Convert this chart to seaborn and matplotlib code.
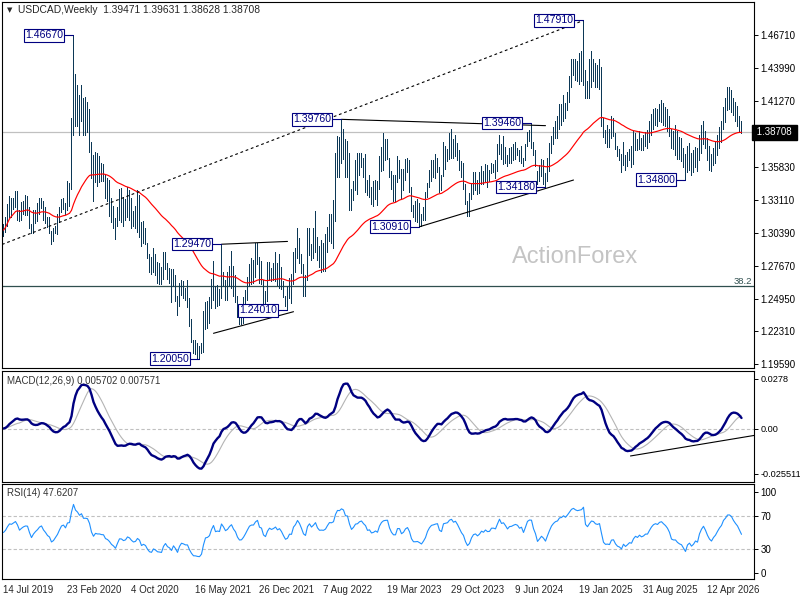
import matplotlib
matplotlib.use("Agg")
import matplotlib.pyplot as plt
import numpy as np
import pandas as pd
import seaborn as sns

# weekly lows / highs, starting week of 14 Jul 2019
week_low = [
    1.3016, 1.3045, 1.3100, 1.3170, 1.3170, 1.3240, 1.3250, 1.3150, 1.3135, 1.3145,
    1.3200, 1.3185, 1.3185, 1.3080, 1.3040, 1.3040, 1.3125, 1.3140, 1.3200, 1.3245,
    1.3150, 1.3120, 1.3090, 1.3040, 1.2950, 1.2970, 1.3040, 1.3030, 1.3130, 1.3215,
    1.3240, 1.3200, 1.3230, 1.3260, 1.3400, 1.3850, 1.3920, 1.3920, 1.3850, 1.3960,
    1.3850, 1.3850, 1.3870, 1.3710, 1.3490, 1.3300, 1.3460, 1.3430, 1.3460, 1.3470,
    1.3470, 1.3330, 1.3300, 1.3180, 1.3130, 1.3080, 1.2990, 1.3100, 1.3150, 1.3130,
    1.3100, 1.3150, 1.3170, 1.3150, 1.3080, 1.3100, 1.3080, 1.3050, 1.3010, 1.2930,
    1.2960, 1.2950, 1.2830, 1.2720, 1.2700, 1.2720, 1.2690, 1.2630, 1.2620, 1.2620,
    1.2660, 1.2740, 1.2660, 1.2630, 1.2470, 1.2600, 1.2480, 1.2360, 1.2440, 1.2530,
    1.2500, 1.2490, 1.2430, 1.2270, 1.2140, 1.2050, 1.2040, 1.2010, 1.2005, 1.2050,
    1.2060, 1.2250, 1.2260, 1.2300, 1.2420, 1.2490, 1.2420, 1.2440, 1.2450, 1.2500,
    1.2600, 1.2490, 1.2490, 1.2600, 1.2590, 1.2520, 1.2470, 1.2350, 1.2290, 1.2290,
    1.2300, 1.2400, 1.2490, 1.2600, 1.2620, 1.2630, 1.2680, 1.2780, 1.2630, 1.2620,
    1.2450, 1.2450, 1.2480, 1.2650, 1.2640, 1.2650, 1.2640, 1.2610, 1.2590, 1.2580,
    1.2510, 1.2440, 1.2401, 1.2500, 1.2460, 1.2620, 1.2720, 1.2830, 1.2790, 1.2710,
    1.2520, 1.2520, 1.2650, 1.2860, 1.2820, 1.2830, 1.2880, 1.2820, 1.2760, 1.2720,
    1.2730, 1.2730, 1.2880, 1.2970, 1.2960, 1.2920, 1.3140, 1.3500, 1.3500, 1.3620,
    1.3650, 1.3500, 1.3500, 1.3230, 1.3230, 1.3310, 1.3390, 1.3360, 1.3520, 1.3580,
    1.3500, 1.3380, 1.3350, 1.3340, 1.3280, 1.3260, 1.3320, 1.3270, 1.3400, 1.3550,
    1.3560, 1.3640, 1.3650, 1.3500, 1.3400, 1.3300, 1.3300, 1.3460, 1.3490, 1.3320,
    1.3390, 1.3480, 1.3540, 1.3380, 1.3220, 1.3170, 1.3140, 1.3130, 1.3091, 1.3100,
    1.3150, 1.3150, 1.3340, 1.3420, 1.3470, 1.3500, 1.3490, 1.3540, 1.3380, 1.3390,
    1.3510, 1.3570, 1.3630, 1.3650, 1.3660, 1.3660, 1.3670, 1.3640, 1.3560, 1.3500,
    1.3400, 1.3280, 1.3177, 1.3180, 1.3320, 1.3360, 1.3390, 1.3360, 1.3370, 1.3440,
    1.3440, 1.3470, 1.3420, 1.3470, 1.3530, 1.3540, 1.3490, 1.3550, 1.3690, 1.3650,
    1.3610, 1.3620, 1.3590, 1.3620, 1.3620, 1.3640, 1.3650, 1.3680, 1.3630, 1.3620,
    1.3590, 1.3640, 1.3760, 1.3800, 1.3740, 1.3680, 1.3590, 1.3440, 1.3470, 1.3510,
    1.3440, 1.3418, 1.3470, 1.3550, 1.3700, 1.3770, 1.3820, 1.3820, 1.3900, 1.3930,
    1.3960, 1.3990, 1.4050, 1.4120, 1.4240, 1.4340, 1.4300, 1.4290, 1.4270, 1.4290,
    1.4260, 1.4150, 1.4150, 1.4150, 1.4240, 1.4290, 1.4240, 1.4240, 1.4230, 1.3920,
    1.3830, 1.3780, 1.3750, 1.3750, 1.3820, 1.3840, 1.3730, 1.3670, 1.3640, 1.3540,
    1.3600, 1.3560, 1.3590, 1.3640, 1.3580, 1.3610, 1.3720, 1.3720, 1.3730, 1.3720,
    1.3720, 1.3760, 1.3740, 1.3790, 1.3850, 1.3900, 1.3930, 1.3920, 1.3960, 1.3950,
    1.3930, 1.3920, 1.3880, 1.3840, 1.3740, 1.3730, 1.3680, 1.3650, 1.3650, 1.3630,
    1.3580, 1.3480, 1.3540, 1.3560, 1.3520, 1.3540, 1.3580, 1.3550, 1.3640, 1.3700,
    1.3770, 1.3740, 1.3640, 1.3560, 1.3550, 1.3600, 1.3620, 1.3680, 1.3740, 1.3790,
    1.3900, 1.3950, 1.4050, 1.4060, 1.4040, 1.4010, 1.3960, 1.3920, 1.3880, 1.38628,
]
week_high = [
    1.3110, 1.3170, 1.3275, 1.3345, 1.3330, 1.3330, 1.3385, 1.3385, 1.3230, 1.3295,
    1.3300, 1.3350, 1.3345, 1.3255, 1.3110, 1.3230, 1.3230, 1.3285, 1.3325, 1.3325,
    1.3300, 1.3250, 1.3175, 1.3170, 1.3060, 1.3080, 1.3100, 1.3200, 1.3250, 1.3320,
    1.3330, 1.3290, 1.3465, 1.3450, 1.3990, 1.4667, 1.4350, 1.4260, 1.4180, 1.4260,
    1.4150, 1.4160, 1.4120, 1.4065, 1.3790, 1.3680, 1.3710, 1.3700, 1.3670, 1.3620,
    1.3610, 1.3520, 1.3490, 1.3480, 1.3330, 1.3260, 1.3160, 1.3250, 1.3400, 1.3410,
    1.3340, 1.3320, 1.3420, 1.3390, 1.3330, 1.3220, 1.3260, 1.3390, 1.3350, 1.3130,
    1.3140, 1.3080, 1.2960, 1.2870, 1.2840, 1.2920, 1.2870, 1.2800, 1.2790, 1.2760,
    1.2880, 1.2880, 1.2790, 1.2750, 1.2740, 1.2740, 1.2690, 1.2520, 1.2630, 1.2650,
    1.2640, 1.2590, 1.2650, 1.2500, 1.2330, 1.2160, 1.2160, 1.2130, 1.2110, 1.2130,
    1.2400, 1.2470, 1.2480, 1.2510, 1.2660, 1.2810, 1.2600, 1.2610, 1.2580, 1.2947,
    1.2720, 1.2650, 1.2720, 1.2770, 1.2890, 1.2770, 1.2690, 1.2520, 1.2400, 1.2410,
    1.2510, 1.2570, 1.2680, 1.2780, 1.2830, 1.2820, 1.2960, 1.2960, 1.2840, 1.2810,
    1.2650, 1.2560, 1.2800, 1.2800, 1.2750, 1.2790, 1.2880, 1.2790, 1.2870, 1.2760,
    1.2640, 1.2520, 1.2600, 1.2670, 1.2700, 1.2880, 1.2920, 1.3080, 1.3000, 1.2870,
    1.2780, 1.2690, 1.3080, 1.3080, 1.2950, 1.3080, 1.3220, 1.3010, 1.2930, 1.2980,
    1.2960, 1.3030, 1.3090, 1.3200, 1.3200, 1.3310, 1.3700, 1.3840, 1.3830, 1.3976,
    1.3900, 1.3810, 1.3800, 1.3700, 1.3400, 1.3470, 1.3640, 1.3700, 1.3700, 1.3700,
    1.3660, 1.3690, 1.3480, 1.3520, 1.3420, 1.3470, 1.3480, 1.3470, 1.3670, 1.3750,
    1.3860, 1.3810, 1.3810, 1.3660, 1.3550, 1.3520, 1.3520, 1.3670, 1.3640, 1.3570,
    1.3570, 1.3650, 1.3660, 1.3640, 1.3420, 1.3270, 1.3300, 1.3320, 1.3290, 1.3200,
    1.3250, 1.3380, 1.3450, 1.3560, 1.3640, 1.3640, 1.3690, 1.3660, 1.3580, 1.3520,
    1.3790, 1.3760, 1.3730, 1.3860, 1.3900, 1.3810, 1.3850, 1.3780, 1.3720, 1.3630,
    1.3620, 1.3440, 1.3300, 1.3370, 1.3440, 1.3540, 1.3540, 1.3480, 1.3540, 1.3590,
    1.3550, 1.3610, 1.3600, 1.3560, 1.3620, 1.3610, 1.3640, 1.3770, 1.3850, 1.3770,
    1.3840, 1.3750, 1.3680, 1.3740, 1.3750, 1.3770, 1.3790, 1.3740, 1.3720, 1.3760,
    1.3660, 1.3770, 1.3870, 1.3890, 1.3946, 1.3790, 1.3720, 1.3550, 1.3600, 1.3650,
    1.3640, 1.3530, 1.3660, 1.3780, 1.3840, 1.3910, 1.3960, 1.4000, 1.4105, 1.4100,
    1.4180, 1.4110, 1.4200, 1.4330, 1.4470, 1.4470, 1.4470, 1.4460, 1.4520, 1.4540,
    1.4791, 1.4380, 1.4290, 1.4470, 1.4540, 1.4470, 1.4440, 1.4420, 1.4470, 1.4410,
    1.3990, 1.3890, 1.3930, 1.3900, 1.4000, 1.3990, 1.3860, 1.3760, 1.3730, 1.3690,
    1.3790, 1.3680, 1.3710, 1.3730, 1.3760, 1.3880, 1.3860, 1.3810, 1.3880, 1.3820,
    1.3850, 1.3870, 1.3890, 1.3960, 1.4020, 1.4060, 1.4070, 1.4060, 1.4100, 1.4135,
    1.4110, 1.4080, 1.4060, 1.4000, 1.3900, 1.3880, 1.3930, 1.3880, 1.3830, 1.3820,
    1.3740, 1.3690, 1.3760, 1.3780, 1.3700, 1.3720, 1.3750, 1.3740, 1.3850, 1.3930,
    1.3960, 1.3880, 1.3820, 1.3760, 1.3690, 1.3740, 1.3790, 1.3850, 1.3910, 1.3960,
    1.4080, 1.4150, 1.4245, 1.4240, 1.4220, 1.4150, 1.4120, 1.4090, 1.4000, 1.39631,
]
last_ohlc = [1.39471, 1.39631, 1.38628, 1.38708]

# swing points that carry a price tag (week index, 'H' = high / 'L' = low)
tag_weeks = [35, 98, 109, 142, 169, 208, 264, 271, 290, 341]
tag_kind = ['H', 'L', 'H', 'L', 'H', 'L', 'H', 'L', 'H', 'L']

price_ticks = [1.46710, 1.43990, 1.41270, 1.35830, 1.33110, 1.30390,
               1.27670, 1.24950, 1.22310, 1.19590]
fib_level = 1.2603
fib_text = '38.2'

# hand drawn lines: (week, price) -> (week, price)
trend_dotted = [(-0.75, 1.2945), (290, 1.4791)]
trend_solid = [
    [(109, 1.2947), (142, 1.2970)],
    [(105, 1.2213), (145, 1.2391)],
    [(169, 1.3976), (271, 1.3924)],
    [(208, 1.3091), (285, 1.3476)],
]
macd_trend = [(313.5, -0.0154), (375.25, -0.0039)]

macd_ticks = [0.0278, 0.0, -0.025511]
macd_tick_labels = ['0.0278', '0.00', '-0.025511']
macd_header = 'MACD(12,26,9) 0.005702 0.007571'
rsi_ticks = [100, 70, 30, 0]
rsi_header = 'RSI(14) 47.6207'

NAVY = '#000080'
BAR = '#0c3856'

df = pd.DataFrame({'low': week_low, 'high': week_high},
                  index=pd.date_range('2019-07-14', periods=len(week_low), freq='W-SUN'))
df['close'] = (df['low'] + df['high']) / 2
df.iloc[-1, df.columns.get_loc('close')] = last_ohlc[3]
idx = np.arange(len(df))

ma = df['close'].ewm(span=55, adjust=True).mean()
ema12 = df['close'].ewm(span=12, adjust=False).mean()
ema26 = df['close'].ewm(span=26, adjust=False).mean()
macd = ema12 - ema26
signal = macd.rolling(9, min_periods=1).mean()

# Wilder RSI, started from a neutral state (equal average gain and loss)
delta = df['close'].diff().fillna(0).values
avg_g = avg_l = np.abs(delta).mean() / 2
rsi = []
for d in delta:
    avg_g = (avg_g * 13 + max(d, 0)) / 14
    avg_l = (avg_l * 13 + max(-d, 0)) / 14
    rsi.append(100 - 100 / (1 + avg_g / avg_l))
rsi = np.array(rsi)

sns.set_style('white')
plt.rcParams['font.family'] = ['Liberation Sans', 'DejaVu Sans']

fig = plt.figure(figsize=(8, 6), dpi=100)
ax = fig.add_axes([2 / 800, 1 - 368 / 600, 752 / 800, 366 / 600])
axm = fig.add_axes([2 / 800, 1 - 482 / 600, 752 / 800, 111 / 600])
axr = fig.add_axes([2 / 800, 1 - 579 / 600, 752 / 800, 95 / 600])

XLIM = (-0.75, 375.25)

# ---- price panel
ax.axhline(last_ohlc[3], color='#c0c0c0', lw=0.9, zorder=0)
ax.axhline(fib_level, color='#2f4f4f', lw=0.9, zorder=1)
ax.text(0.997, fib_level, fib_text, transform=ax.get_yaxis_transform(),
        ha='right', va='bottom', fontsize=6.8, color='#2f4f4f')
ax.text(0.762, 0.303, 'ActionForex', transform=ax.transAxes, fontsize=17,
        color='#c4c4c4', ha='center', va='center', zorder=0)

ax.vlines(idx, df['low'], df['high'], color=BAR, lw=0.6, zorder=2,
          antialiased=False)
sns.lineplot(x=idx, y=ma.values, ax=ax, color='red', lw=0.85, zorder=3)

(x0, y0), (x1, y1) = trend_dotted
ax.plot([x0, x1], [y0, y1], color='black', lw=0.8, ls=(0, (2.5, 2.5)), zorder=3)
for (x0, y0), (x1, y1) in trend_solid:
    ax.plot([x0, x1], [y0, y1], color='black', lw=0.8, zorder=3)

for w, k in zip(tag_weeks, tag_kind):
    p = week_high[w] if k == 'H' else week_low[w]
    ax.plot([w - 5, w], [p, p], color=NAVY, lw=0.8, zorder=4)
    ax.text(w - 5.3, p, f'{p:.5f}', ha='right', va='center', fontsize=7.6,
            color=NAVY, zorder=5,
            bbox=dict(boxstyle='square,pad=0.12', fc='white', ec=NAVY, lw=0.8))

ax.text(0.0066, 0.978, '\u25bc', transform=ax.transAxes, fontsize=5,
        va='center', ha='left', family='DejaVu Sans')
ax.text(0.0213, 0.978, 'USDCAD,Weekly  ' + ' '.join(f'{v:.5f}' for v in last_ohlc),
        transform=ax.transAxes, fontsize=7.4, va='center', ha='left')

ax.set_xlim(*XLIM)
ax.set_ylim(1.19271, 1.49429)
ax.set_yticks(price_ticks)
ax.set_yticklabels([f'{v:.5f}' for v in price_ticks])
ax.text(1.0, last_ohlc[3], f' {last_ohlc[3]:.5f} ', transform=ax.get_yaxis_transform(),
        ha='left', va='center', fontsize=7, color='white', zorder=6,
        bbox=dict(boxstyle='square,pad=0.25', fc='black', ec='black'))

# ---- MACD panel
axm.axhline(0, color='#c0c0c0', lw=0.8, ls=(0, (3, 2)))
sns.lineplot(x=idx, y=signal.values, ax=axm, color='#b4b4b4', lw=0.8)
sns.lineplot(x=idx, y=macd.values, ax=axm, color=NAVY, lw=1.7)
(x0, y0), (x1, y1) = macd_trend
axm.plot([x0, x1], [y0, y1], color='black', lw=0.8)
axm.text(0.0066, 0.91, macd_header, transform=axm.transAxes, fontsize=7,
         va='center', ha='left', color='#333333')
axm.set_xlim(*XLIM)
axm.set_ylim(-0.0300, 0.03225)
axm.set_yticks(macd_ticks)
axm.set_yticklabels(macd_tick_labels)

# ---- RSI panel
for lvl in (70, 30):
    axr.axhline(lvl, color='#c0c0c0', lw=0.8, ls=(0, (3, 2)))
sns.lineplot(x=idx, y=rsi, ax=axr, color='#1e90ff', lw=0.8)
axr.text(0.0066, 0.904, rsi_header, transform=axr.transAxes, fontsize=7,
         va='center', ha='left', color='#333333')
axr.set_xlim(*XLIM)
axr.set_ylim(-7.3, 109.8)
axr.set_yticks(rsi_ticks)
axr.set_yticklabels([str(v) for v in rsi_ticks])

date_pos = idx[::32]
axr.set_xticks(date_pos)
axr.set_xticklabels([f'{d.day} {d:%b %Y}' for d in df.index[date_pos]])
for lbl in axr.get_xticklabels():
    lbl.set_ha('left')

for a in (ax, axm, axr):
    a.yaxis.tick_right()
    a.tick_params(axis='y', direction='out', length=3, width=0.7,
                  labelsize=7, pad=1.5, colors='black')
    a.set_xlabel('')
    a.set_ylabel('')
    for s in a.spines.values():
        s.set_color('black')
        s.set_linewidth(0.8)
    if a is not axr:
        a.set_xticks([])
axm.tick_params(axis='y', labelsize=6.6)
axr.tick_params(axis='x', direction='out', length=3, width=0.7,
                labelsize=7, pad=1)

fig.savefig('out.png', dpi=100)
